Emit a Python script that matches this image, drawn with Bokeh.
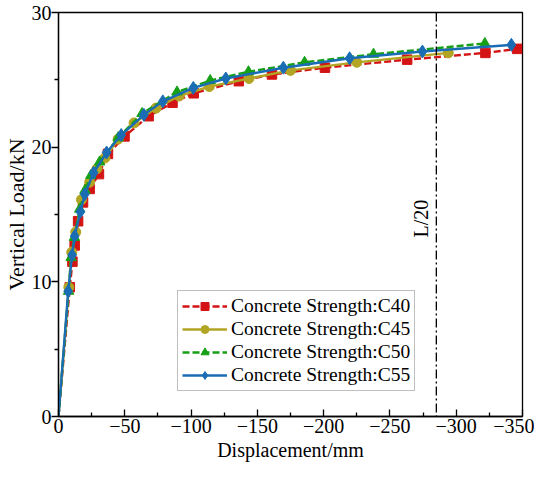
import math
from bokeh.plotting import figure
from bokeh.models import Range1d, Span, Label, Legend, LegendItem, FixedTicker
from bokeh.embed import file_html
from bokeh.resources import INLINE

# ---------------- data ----------------
c40_x = [0, -8.5, -10.5, -12.2, -14.8, -18.5, -23.5, -30.5, -37.3, -49.8, -68, -86, -102, -136, -161, -201, -263, -322, -346]
c40_y = [0, 9.6, 11.5, 12.7, 14.5, 15.9, 16.9, 18.0, 19.5, 20.8, 22.3, 23.3, 24.0, 24.9, 25.4, 25.9, 26.5, 27.0, 27.3]

c45_x = [0, -7.8, -10, -13, -17.3, -23.5, -29, -35, -45, -57, -73.6, -91, -113.7, -143.7, -175, -225, -294]
c45_y = [0, 9.6, 12.2, 13.7, 16.1, 17.4, 18.4, 19.2, 20.6, 21.8, 22.9, 23.8, 24.5, 25.1, 25.7, 26.3, 27.0]

c50_x = [0, -7.6, -9.5, -12, -16, -20, -24.4, -31, -45, -63, -89.4, -114.4, -143.3, -185.6, -237.6, -321.6]
c50_y = [0, 9.3, 11.8, 13.3, 15.4, 16.8, 17.9, 18.9, 20.7, 22.5, 24.1, 24.95, 25.6, 26.3, 26.9, 27.7]

c55_x = [0, -7.3, -10.3, -12.2, -16.5, -19.8, -26.5, -36.3, -47.3, -64.4, -78.7, -101.7, -126.2, -169.6, -219.6, -274.5, -341.6]
c55_y = [0, 9.3, 12.0, 13.4, 15.2, 16.5, 18.1, 19.6, 20.9, 22.4, 23.4, 24.4, 25.1, 25.9, 26.6, 27.1, 27.6]

series_names = ["Concrete Strength:C40", "Concrete Strength:C45",
                "Concrete Strength:C50", "Concrete Strength:C55"]

x_ticks = [0, -50, -100, -150, -200, -250, -300, -350]
x_minor = [-25, -75, -125, -175, -225, -275, -325]
y_ticks = [0, 10, 20, 30]
y_minor = [5, 15, 25]

l20_x = -285
l20_text = "L/20"
l20_label_y = 14.7

# ---------------- style ----------------
FONT = "Liberation Serif"
FS_TICK = "20px"
FS_LEG = "19.5px"
FS_YLAB = "22px"
FS_XLAB = "20px"
colors = ["#D41414", "#B3A524", "#17A017", "#1A6DB5"]
markers = ["square", "circle", "triangle", "diamond"]
msizes = [9.5, 10, 10.5, 13]
dashes = ["7 3", "solid", "7 3", "solid"]

p = figure(width=534, height=468, output_backend="svg", toolbar_location=None,
           x_range=Range1d(0, -350), y_range=Range1d(0, 30),
           min_border_left=49, min_border_right=12, min_border_top=12, min_border_bottom=52)

p.xgrid.visible = False
p.ygrid.visible = False
p.outline_line_color = "black"
p.outline_line_width = 1.3
p.background_fill_color = "white"
p.border_fill_color = "white"

# axes
xa = p.xaxis[0]
ya = p.yaxis[0]
xa.ticker = FixedTicker(ticks=x_ticks, minor_ticks=x_minor)
ya.ticker = FixedTicker(ticks=y_ticks, minor_ticks=y_minor)
xa.major_label_overrides = {t: (("\u2212" + str(abs(t))) if t < 0 else str(t)) for t in x_ticks}
for ax in (xa, ya):
    ax.axis_line_color = "black"
    ax.axis_line_width = 1.3
    ax.major_tick_line_color = "black"
    ax.major_tick_line_width = 1.3
    ax.minor_tick_line_color = "black"
    ax.minor_tick_line_width = 1.3
    ax.major_label_text_font = FONT
    ax.major_label_text_font_size = FS_TICK
    ax.major_label_text_color = "black"
    ax.axis_label_text_font = FONT
    ax.axis_label_text_font_style = "normal"
    ax.axis_label_text_color = "black"

xa.axis_label = "Displacement/mm"
xa.axis_label_text_font_size = FS_XLAB
xa.major_tick_in = 7
xa.major_tick_out = 0
xa.minor_tick_in = 4
xa.minor_tick_out = 0
xa.major_label_standoff = 2
xa.axis_label_standoff = 3

ya.axis_label = "Vertical Load/kN"
ya.axis_label_text_font_size = FS_YLAB
ya.major_tick_in = 0
ya.major_tick_out = 7
ya.minor_tick_in = 0
ya.minor_tick_out = 4
ya.major_label_standoff = 0
ya.axis_label_standoff = 0

# vertical dash-dot line
p.add_layout(Span(location=l20_x, dimension="height", line_color="black",
                  line_width=1.3, line_dash="9 3 2 3"))
p.add_layout(Label(x=l20_x, y=l20_label_y, x_offset=-4, text=l20_text, angle=math.pi / 2,
                   text_align="center", text_baseline="bottom", text_font=FONT,
                   text_font_size=FS_TICK, text_color="black"))

# series
data = [(c40_x, c40_y), (c45_x, c45_y), (c50_x, c50_y), (c55_x, c55_y)]
items = []
for i, (xs, ys) in enumerate(data):
    ln = p.line(xs, ys, line_color=colors[i], line_width=2.4, line_dash=dashes[i])
    sc = p.scatter(xs[1:], ys[1:], marker=markers[i], size=msizes[i],
                   fill_color=colors[i], line_color=colors[i])
    items.append(LegendItem(label=series_names[i], renderers=[ln, sc]))

legend = Legend(items=items, location=(119, 25))
legend.label_text_font = FONT
legend.label_text_font_size = FS_LEG
legend.label_text_color = "black"
legend.border_line_color = "#808080"
legend.border_line_width = 1
legend.background_fill_color = "white"
legend.background_fill_alpha = 1
legend.glyph_width = 45
legend.glyph_height = 20
legend.label_height = 20
legend.label_standoff = 4
legend.spacing = 1
legend.padding = 4
legend.margin = 0
p.add_layout(legend, "center")

open("out.html", "w").write(file_html(p, INLINE))
